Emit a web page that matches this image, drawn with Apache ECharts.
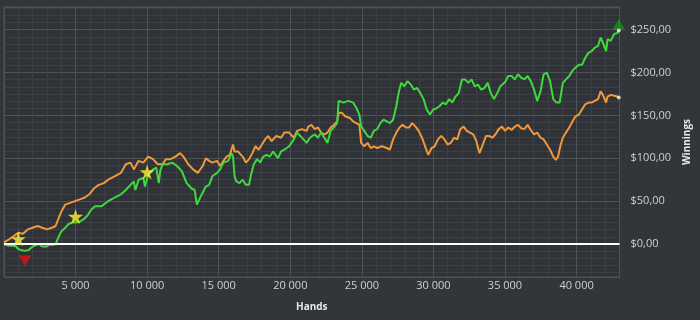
<!DOCTYPE html>
<html>
<head>
<meta charset="utf-8">
<script src="https://cdn.jsdelivr.net/npm/echarts@6/dist/echarts.min.js"></script>
<style>
html,body{margin:0;padding:0;background:#323539;}
#chart{width:700px;height:320px;}
</style>
</head>
<body>
<div id="chart"></div>
<script>
// ---- data ----
const greenHands = [0,320,660,860,990,1190,1460,1730,2000,2270,2470,2670,2940,3140,3410,3610,3810,4010,4280,4480,4750,5020,5290,5560,5820,6090,6360,6560,6830,7030,7280,7720,8170,8510,8840,9070,9180,9400,9740,9850,10070,10410,10640,10810,10920,11080,11410,11750,12090,12420,12760,13090,13320,13470,13760,13880,14100,14330,14550,14880,15100,15330,15670,15890,16000,16110,16230,16450,16670,16900,17120,17230,17450,17680,17900,18120,18350,18570,18800,19130,19360,19580,19920,20250,20470,20700,20920,21140,21370,21710,21930,22150,22380,22600,22820,23050,23270,23380,23720,24060,24390,24610,24830,24950,25170,25400,25620,25840,26070,26290,26510,26740,26960,27180,27410,27590,27750,27970,28190,28420,28640,28860,29090,29310,29530,29760,29980,30200,30430,30650,30870,31100,31320,31540,31770,31990,32220,32440,32660,32890,33110,33340,33560,33790,34010,34230,34460,34680,35010,35230,35460,35680,35910,36130,36350,36580,36800,37030,37250,37480,37700,37920,38150,38370,38590,38820,39040,39260,39490,39710,39930,40160,40380,40600,40830,41050,41270,41500,41680,41840,42060,42170,42390,42620,42840,42950];
const greenWinnings = [0,-2,-2,-3,-6,-7,-8,-7,-3,-1,0,-3,-3,-1,-1,0,8,15,19,23,25,25,26,29,33,40,44,44,44,47,50,54,58,63,69,73,63,75,77,67,81,87,89,71,86,93,93,95,91,85,71,65,63,46,56,56,67,69,79,83,87,95,97,106,102,79,73,71,75,69,69,79,93,99,95,102,104,102,108,100,108,110,114,122,130,126,122,118,124,128,124,130,124,118,132,136,141,167,165,167,165,159,151,137,132,126,124,132,134,141,145,143,141,145,161,178,188,184,190,186,180,182,176,169,157,151,157,158,161,165,163,169,165,172,176,192,192,188,192,184,186,180,182,188,176,169,176,184,189,196,196,192,198,194,192,196,190,180,167,178,198,200,190,169,165,165,188,192,196,202,206,209,209,217,223,225,229,231,241,235,225,239,237,245,246,249];

const orangeHands = [0,320,660,990,1330,1660,2000,2340,2670,3010,3340,3610,3810,4010,4280,4620,4950,5290,5620,5960,6290,6630,6970,7280,7720,8170,8510,8840,9070,9400,9740,10070,10410,10740,11080,11310,11640,11980,12310,12530,12870,13210,13540,13880,14100,14330,14550,14880,15100,15330,15550,15780,16000,16110,16340,16670,16900,17120,17350,17570,17790,18020,18240,18460,18690,19020,19360,19580,19920,20250,20470,20810,21140,21260,21480,21710,21930,22150,22380,22600,22820,23050,23270,23380,23610,23830,24160,24390,24610,24830,24950,25170,25400,25620,25840,26070,26400,26740,26960,27180,27410,27630,27850,28080,28300,28520,28750,28970,29200,29420,29640,29870,30090,30320,30540,30770,30990,31210,31440,31660,31880,32110,32330,32550,32780,33000,33220,33450,33670,33890,34120,34340,34560,34790,35010,35230,35460,35680,35910,36130,36350,36580,36800,37030,37250,37480,37700,37920,38150,38370,38550,38710,38860,39040,39260,39490,39710,39930,40160,40380,40600,40830,41050,41270,41500,41680,41840,42060,42170,42390,42620,42840,42950];
const orangeWinnings = [2,5,9,13,12,17,19,21,19,17,19,21,30,38,46,48,50,52,54,58,65,69,71,75,79,83,93,95,87,97,95,102,99,93,93,99,99,102,106,102,93,87,83,91,100,97,95,97,91,97,102,104,116,108,108,102,95,99,106,114,110,116,122,126,120,126,124,130,130,124,132,134,132,137,139,134,136,130,128,130,136,139,143,153,153,149,147,143,141,139,118,114,118,112,114,112,114,112,110,122,130,136,139,136,136,141,137,132,124,114,104,112,114,122,126,122,116,118,124,122,134,137,132,130,128,120,106,116,126,126,124,128,134,137,132,136,133,137,139,135,134,139,133,128,130,124,122,116,110,102,98,102,114,124,130,136,143,149,151,157,163,165,165,167,169,178,174,165,172,174,173,172,171];

const starHands = [1000, 5000, 10000];
const starWinnings = [6, 32, 84];
const minPoint = [1460, -8];
const xTickLabels = ['5 000','10 000','15 000','20 000','25 000','30 000','35 000','40 000'];

// ---- chart ----
const zip = (a, b) => a.map((v, i) => [v, b[i]]);
const greenData = zip(greenHands, greenWinnings);
const orangeData = zip(orangeHands, orangeWinnings);
const starData = zip(starHands, starWinnings);
const greenLast = greenData[greenData.length - 1];
const orangeLast = orangeData[orangeData.length - 1];

const STAR = 'path://M50,0 L61,35 L98,35 L68,57 L79,91 L50,70 L21,91 L32,57 L2,35 L39,35 Z';
const font = '"Open Sans", "Noto Sans", sans-serif';

const chart = echarts.init(document.getElementById('chart'), null, {renderer: 'canvas'});
chart.setOption({
  backgroundColor: '#323539',
  animation: false,
  grid: {left: 4, right: 56, top: 7, bottom: 43, show: true, backgroundColor: '#2f3236', borderColor: '#505358', borderWidth: 1},
  xAxis: {
    type: 'value', min: 0, max: 43000, interval: 5000,
    axisLine: {show: false}, axisTick: {show: false},
    splitLine: {show: true, lineStyle: {color: '#4e5156', width: 1}},
    minorTick: {show: false, splitNumber: 5},
    minorSplitLine: {show: true, lineStyle: {color: '#3c3f44', width: 1}},
    axisLabel: {
      color: '#cfcfcf', fontSize: 11, fontFamily: font, margin: 3,
      showMinLabel: false, showMaxLabel: false,
      formatter: v => { const i = v / 5000 - 1; return xTickLabels[i] || ''; }
    },
    name: 'Hands', nameLocation: 'middle', nameGap: 25,
    nameTextStyle: {color: '#e8e8e8', fontSize: 10, fontWeight: 'bold', fontFamily: font}
  },
  yAxis: {
    type: 'value', position: 'right', min: -38.5, max: 276.5, splitNumber: 6,
    axisLine: {show: false}, axisTick: {show: false},
    splitLine: {show: true, lineStyle: {color: '#4e5156', width: 1}},
    minorTick: {show: false, splitNumber: 6},
    minorSplitLine: {show: true, lineStyle: {color: '#3c3f44', width: 1}},
    axisLabel: {
      color: '#cfcfcf', fontSize: 11, fontFamily: font, margin: 11,
      showMinLabel: false, showMaxLabel: false,
      formatter: v => (v % 50 === 0) ? '$' + v.toFixed(2).replace('.', ',') : ''
    },
    name: 'Winnings', nameLocation: 'middle', nameGap: 47, nameRotate: 90,
    nameTextStyle: {color: '#e8e8e8', fontSize: 10, fontWeight: 'bold', fontFamily: font}
  },
  series: [
    {
      type: 'line', data: orangeData, showSymbol: false, symbol: 'none',
      lineStyle: {color: '#f0983e', width: 2}, z: 3
    },
    {
      type: 'line', data: greenData, showSymbol: false, symbol: 'none',
      lineStyle: {color: '#3fd83f', width: 2}, z: 4,
      markLine: {
        silent: true, symbol: 'none', label: {show: false},
        lineStyle: {color: '#ffffff', width: 2, type: 'solid'},
        data: [{yAxis: 0}]
      }
    },
    {
      type: 'scatter', data: starData, symbol: STAR, symbolSize: 15,
      itemStyle: {color: '#fff23a'}, z: 6
    },
    {
      type: 'scatter', data: [minPoint], symbol: 'triangle', symbolRotate: 180,
      symbolSize: [13, 11], symbolOffset: [0, 10], itemStyle: {color: '#d81414'}, z: 6
    },
    {
      type: 'scatter', data: [greenLast], symbol: 'triangle',
      symbolSize: [13, 11], symbolOffset: [0, -6], itemStyle: {color: '#17941a'}, z: 6
    },
    {
      type: 'scatter', data: [greenLast, orangeLast], symbol: 'circle',
      symbolSize: 4, itemStyle: {color: '#f3f1d8'}, z: 7
    }
  ]
});
</script>
</body>
</html>
